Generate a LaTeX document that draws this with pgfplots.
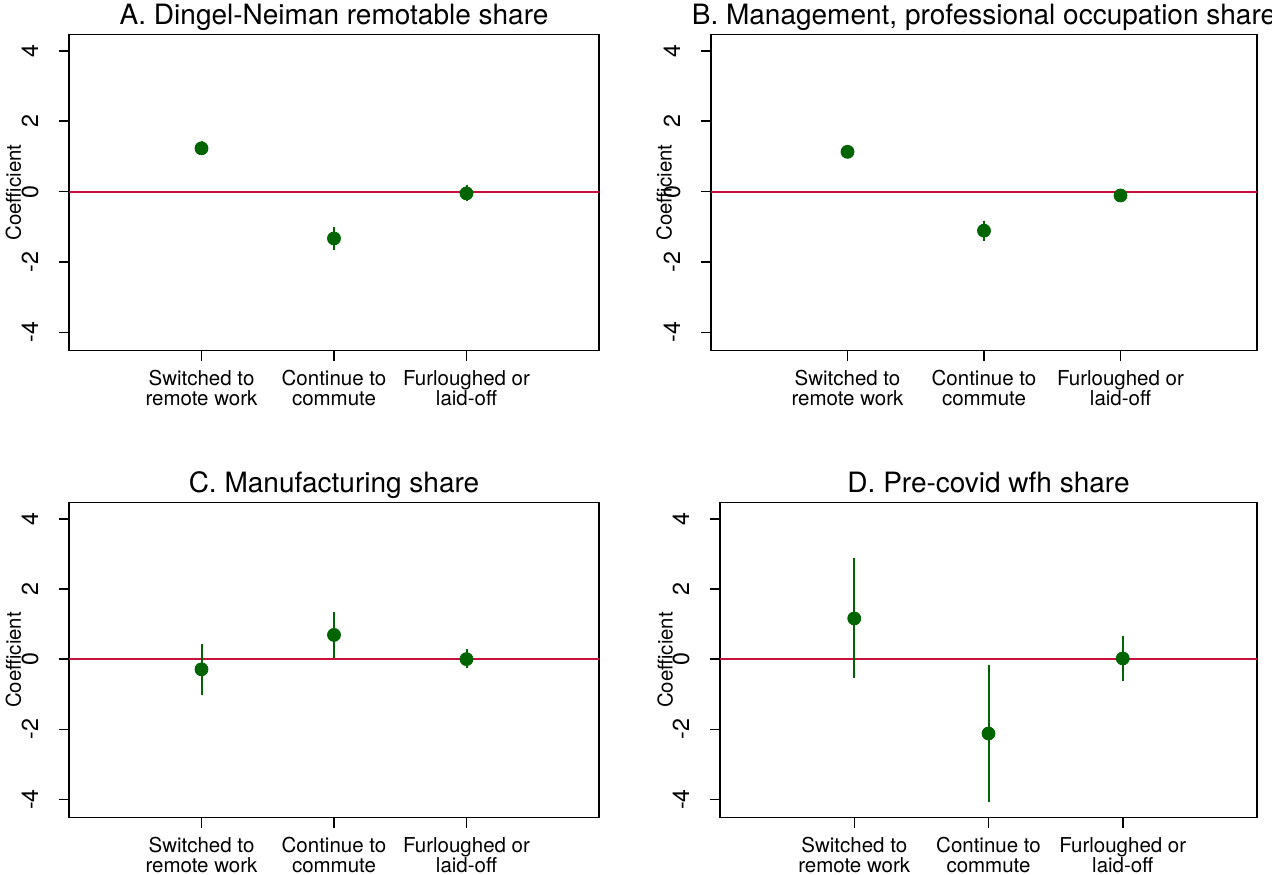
\documentclass[border=0pt]{standalone}
\usepackage{fontspec}
\setmainfont{TeX Gyre Heros}
\usepackage{pgfplots}
\pgfplotsset{compat=1.18}
\usepackage{pgfplotstable}
\definecolor{dkgreen}{RGB}{0,100,0}
\definecolor{cranberry}{RGB}{200,16,60}

\pgfplotstableread{
x y lo hi
1 1.23 1.04 1.45
2 -1.33 -1.66 -1.00
3 -0.05 -0.28 0.19
}\dataA
\pgfplotstableread{
x y lo hi
1 1.13 0.99 1.27
2 -1.11 -1.39 -0.83
3 -0.11 -0.22 0.00
}\dataB
\pgfplotstableread{
x y lo hi
1 -0.29 -1.01 0.43
2 0.69 0.04 1.34
3 0.00 -0.26 0.28
}\dataC
\pgfplotstableread{
x y lo hi
1 1.16 -0.55 2.88
2 -2.12 -4.07 -0.18
3 0.02 -0.62 0.67
}\dataD

\pgfplotsset{
  coefplot/.style={
    scale only axis,
    xmin=0, xmax=4, ymin=-4.52, ymax=4.47,
    axis line style={line width=0.75pt},
    every tick/.style={line width=0.75pt, black},
    tick align=outside,
    major tick length=5pt,
    xtick={1,2,3},
    xticklabels={{Switched to\\remote work},{Continue to\\commute},{Furloughed or\\laid-off}},
    xtick pos=bottom, ytick pos=left,
    ytick={-4,-2,0,2,4},
    yticklabels={-4,-2,0,2,4},
    xticklabel style={align=center, anchor=north, inner sep=0pt, yshift=-4.5pt, font=\fontsize{10.25}{10}\selectfont},
    yticklabel style={rotate=90, anchor=base, inner sep=0pt, yshift=10.4pt, font=\fontsize{11.6}{13}\selectfont},
    title style={at={(0.5,1)}, anchor=base, yshift=-1pt, font=\fontsize{14}{16}\selectfont},
    ylabel={Coefficient},
    ylabel style={anchor=base, font=\fontsize{10.2}{12}\selectfont},
  },
  zeroline/.style={draw=cranberry, line width=0.9pt, forget plot},
  coefs/.style={only marks, mark=*, mark size=3.25pt, color=dkgreen,
    error bars/.cd, y dir=both, y explicit, error mark=none,
    error bar style={line width=1pt, color=dkgreen}},
}

\begin{document}
\begin{tikzpicture}
\useasboundingbox (0,0) rectangle (636pt,437pt);

\begin{axis}[coefplot, at={(34.5pt,261.65pt)}, anchor=south west,
  width=265pt, height=158.2pt,
  title={A. Dingel-Neiman remotable share},
  ylabel style={at={(axis description cs:-0.0906,0.5)}}]
\addplot[zeroline] coordinates {(0,0) (4,0)};
\addplot[coefs] table[x=x, y=y, y error plus expr=\thisrow{hi}-\thisrow{y}, y error minus expr=\thisrow{y}-\thisrow{lo}] {\dataA};
\end{axis}

\begin{axis}[coefplot, at={(355.5pt,261.65pt)}, anchor=south west,
  width=273pt, height=158.2pt,
  title={B. Management, professional occupation share},
  ylabel style={at={(axis description cs:-0.072,0.5)}}]
\addplot[zeroline] coordinates {(0,0) (4,0)};
\addplot[coefs] table[x=x, y=y, y error plus expr=\thisrow{hi}-\thisrow{y}, y error minus expr=\thisrow{y}-\thisrow{lo}] {\dataB};
\end{axis}

\begin{axis}[coefplot, at={(34.5pt,28.15pt)}, anchor=south west,
  width=265pt, height=157.7pt,
  title={C. Manufacturing share},
  ylabel style={at={(axis description cs:-0.0906,0.5)}}]
\addplot[zeroline] coordinates {(0,0) (4,0)};
\addplot[coefs] table[x=x, y=y, y error plus expr=\thisrow{hi}-\thisrow{y}, y error minus expr=\thisrow{y}-\thisrow{lo}] {\dataC};
\end{axis}

\begin{axis}[coefplot, at={(360pt,28.15pt)}, anchor=south west,
  width=268.5pt, height=157.7pt,
  title={D. Pre-covid wfh share},
  ylabel style={at={(axis description cs:-0.0883,0.5)}}]
\addplot[zeroline] coordinates {(0,0) (4,0)};
\addplot[coefs] table[x=x, y=y, y error plus expr=\thisrow{hi}-\thisrow{y}, y error minus expr=\thisrow{y}-\thisrow{lo}] {\dataD};
\end{axis}
\end{tikzpicture}
\end{document}
